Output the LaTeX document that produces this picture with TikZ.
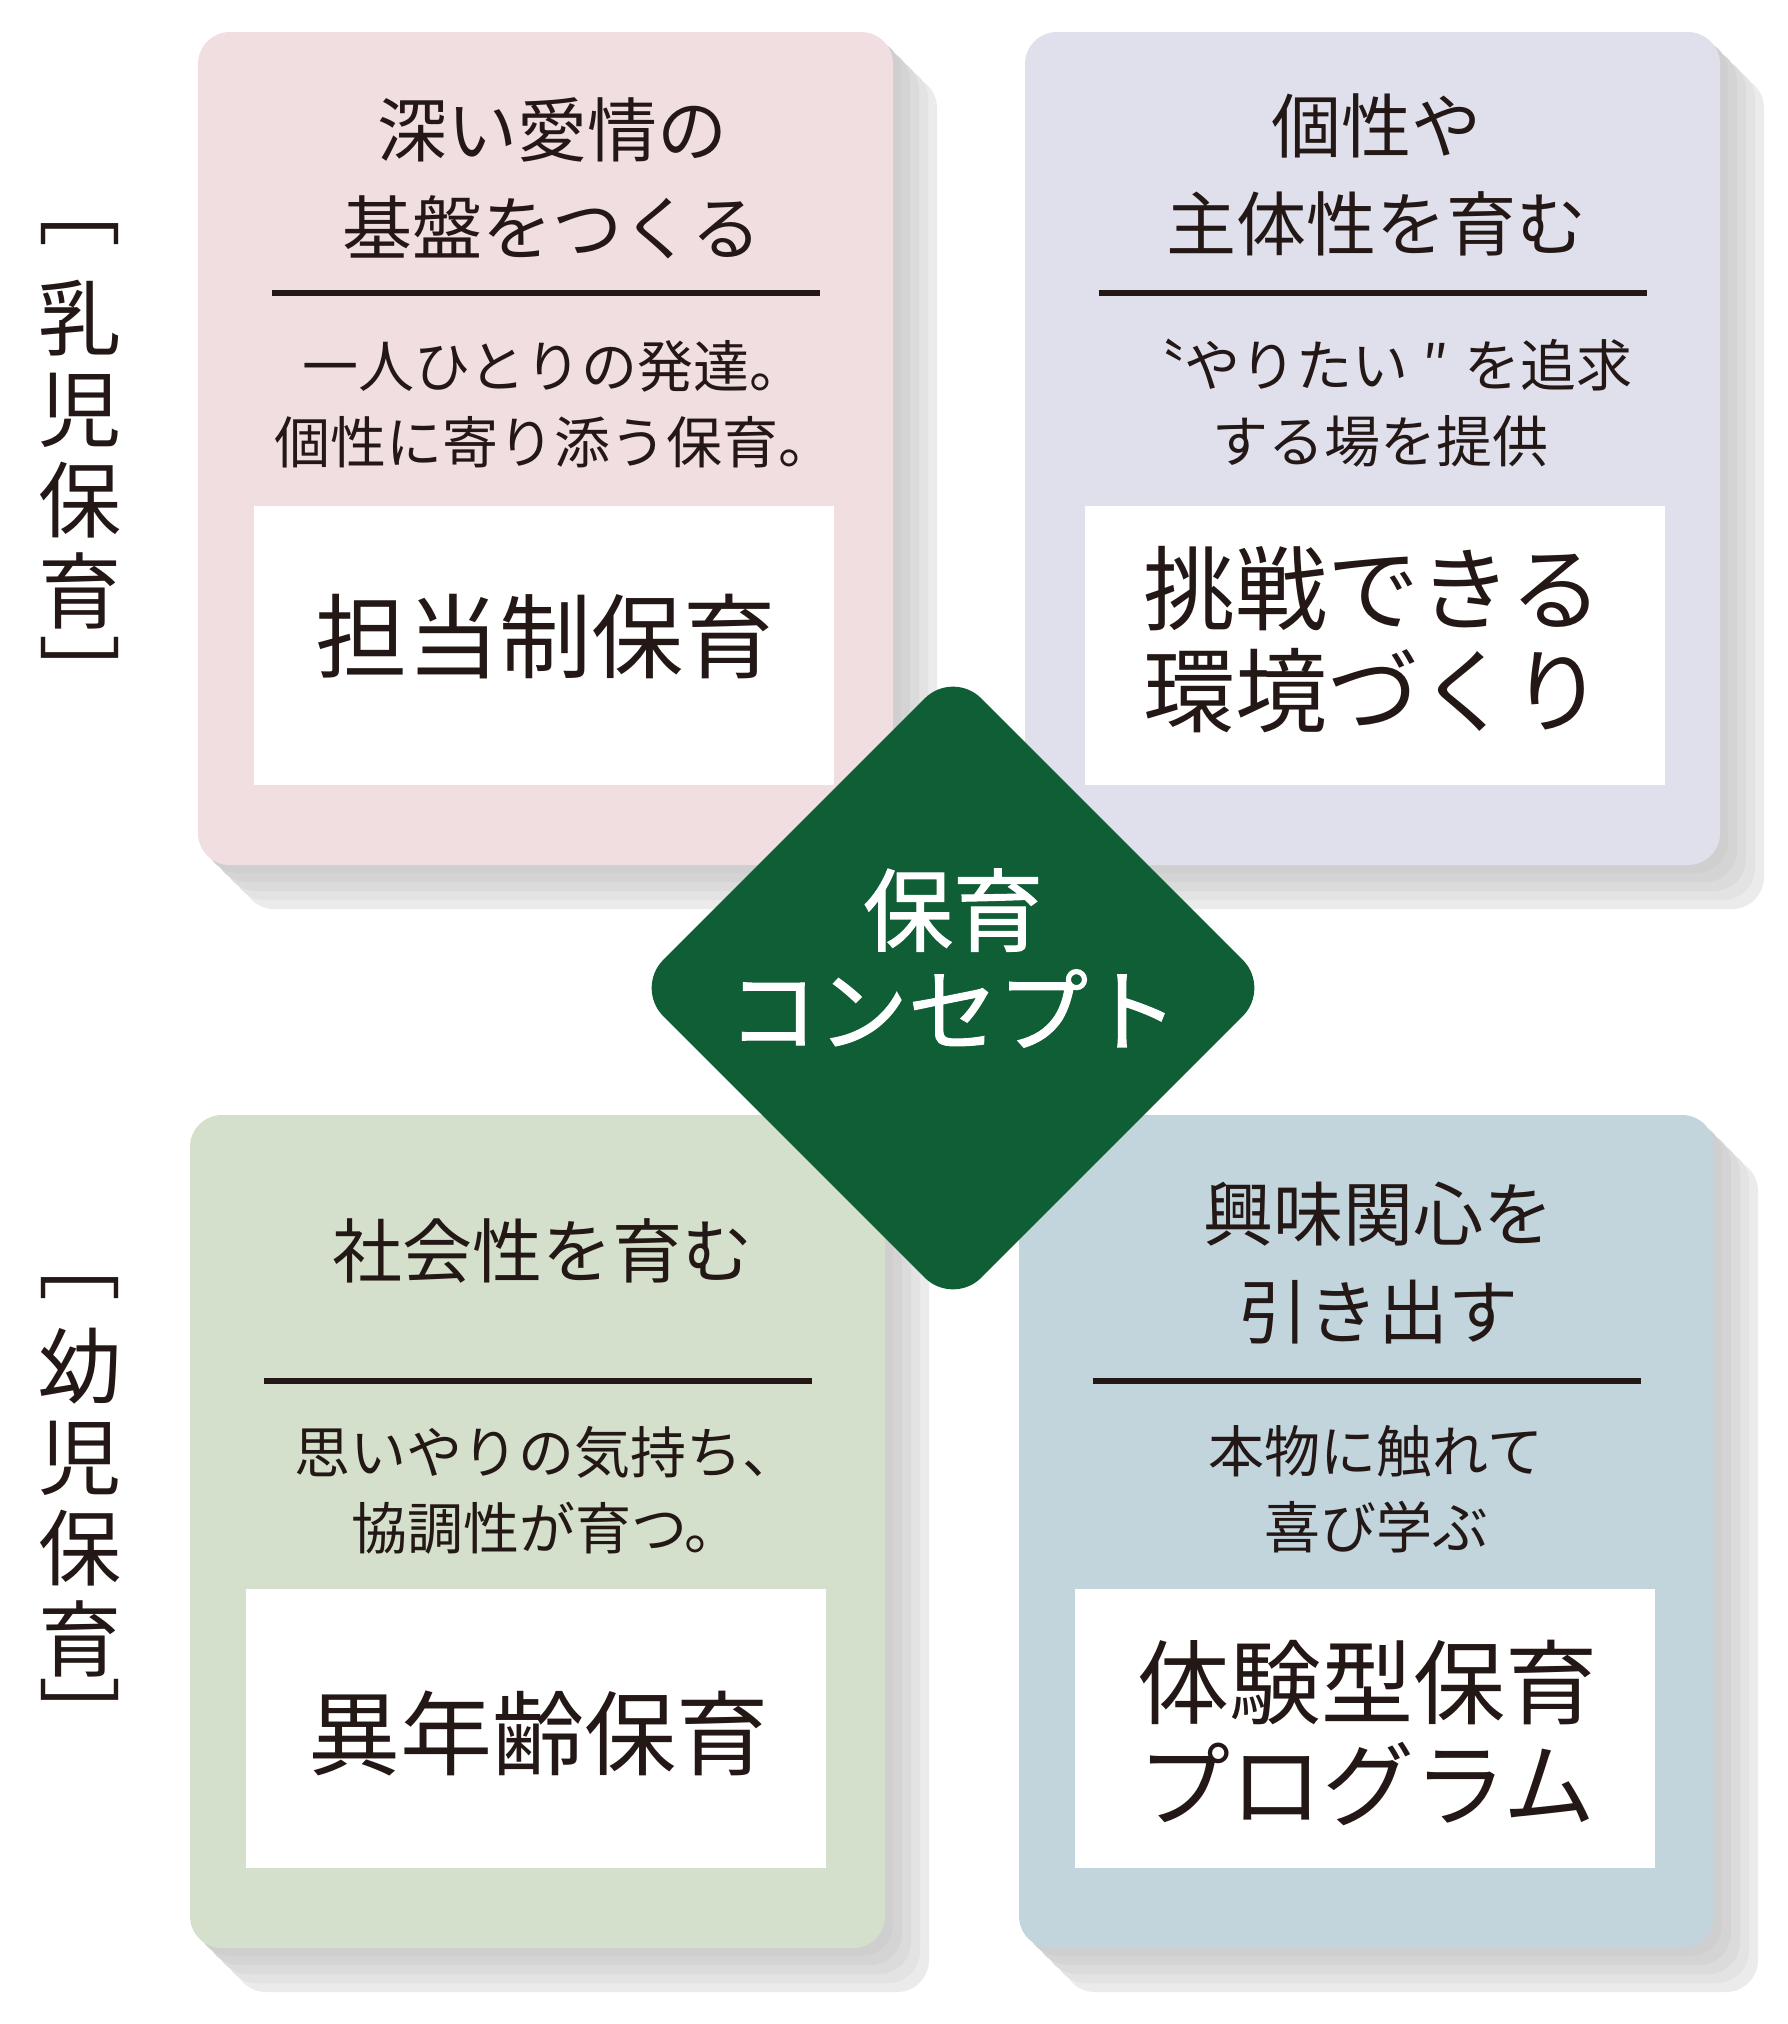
\documentclass[tikz,border=0pt]{standalone}
\usepackage{fontspec}
\setmainfont{Noto Sans CJK JP}
\newfontfamily\conceptfont{Noto Sans CJK JP}[FakeBold=1.2]
\usetikzlibrary{shapes.geometric}
\usetikzlibrary{shadows}

\definecolor{ink}{HTML}{231815}
\definecolor{pinkcard}{HTML}{F0DEE1}
\definecolor{lavcard}{HTML}{E0E0EC}
\definecolor{greencard}{HTML}{D4E0CB}
\definecolor{bluecard}{HTML}{C2D5DD}
\definecolor{conceptgreen}{HTML}{105E35}

\begin{document}
\begin{tikzpicture}[x=1pt,y=-1pt,
    card/.style={rounded corners=32pt, minimum width=695pt, minimum height=833pt, inner sep=0pt,
        general shadow={fill=black!8, shadow xshift=44pt, shadow yshift=-44pt},
        general shadow={fill=black!11, shadow xshift=35pt, shadow yshift=-35pt},
        general shadow={fill=black!14, shadow xshift=26pt, shadow yshift=-26pt},
        general shadow={fill=black!17, shadow xshift=17pt, shadow yshift=-17pt},
        general shadow={fill=black!19, shadow xshift=8pt, shadow yshift=-8pt}},
    whitebox/.style={fill=white, minimum width=580pt, minimum height=279pt, inner sep=0pt},
    title/.style={align=center, text=ink, inner sep=0pt, font=\fontsize{70}{98}\selectfont},
    subtext/.style={align=center, text=ink, inner sep=0pt, font=\fontsize{56}{76}\selectfont},
    maintext/.style={align=center, text=ink, inner sep=0pt, font=\fontsize{92}{102}\selectfont},
    rule/.style={ink, line width=6.5pt},
    sidelabel/.style={align=center, text=ink, inner sep=0pt, font=\fontsize{83}{91}\selectfont},
    concept/.style={diamond, aspect=1, fill=conceptgreen, minimum width=636pt, minimum height=636pt,
        inner sep=0pt, rounded corners=40pt},
    concepttext/.style={align=center, text=white, inner sep=0pt, font=\conceptfont\fontsize{90}{100}\selectfont}]
    \useasboundingbox (0,0) rectangle (1788,2024);

    % cards
    \node[card, fill=pinkcard] (infantA) at (545.5,448.5) {};
    \node[card, fill=lavcard] (infantB) at (1372.5,448.5) {};
    \node[card, fill=greencard] (childA) at (537.5,1531.5) {};
    \node[card, fill=bluecard] (childB) at (1366.5,1531.5) {};

    % white boxes
    \node[whitebox] (boxA) at (544,645.5) {};
    \node[whitebox] (boxB) at (1375,645.5) {};
    \node[whitebox] (boxC) at (536,1728.5) {};
    \node[whitebox] (boxD) at (1365,1728.5) {};

    % top left
    \node[title] (titleA) at (552,178) {深い愛情の\\基盤をつくる};
    \draw[rule] (271.5,293) -- (819.5,293);
    \node[subtext] (subA) at (554,404) {一人ひとりの発達。\\個性に寄り添う保育。};
    \node[maintext] (mainA) at (545,637) {担当制保育};

    % top right
    \node[title] (titleB) at (1376,175) {個性や\\主体性を育む};
    \draw[rule] (1098.5,293) -- (1646.5,293);
    \node[subtext] (subB) at (1380,403) {〝やりたい\makebox[1em]{″}を追求\\する場を提供};
    \node[maintext] (mainB) at (1373,640) {挑戦できる\\環境づくり};

    % bottom left
    \node[title] (titleC) at (542,1251) {社会性を育む};
    \draw[rule] (263.5,1381) -- (811.5,1381);
    \node[subtext] (subC) at (546,1490) {思いやりの気持ち、\\協調性が育つ。};
    \node[maintext] (mainC) at (538,1733) {異年齢保育};

    % bottom right
    \node[title] (titleD) at (1378,1263) {興味関心を\\引き出す};
    \draw[rule] (1092.5,1381) -- (1640.5,1381);
    \node[subtext] (subD) at (1376,1489) {本物に触れて\\喜び学ぶ};
    \node[maintext] (mainD) at (1367,1733) {体験型保育\\プログラム};

    % centre
    \node[concept] (concept) at (953,988) {};
    \node[concepttext] (conceptLabel) at (953,958) {保育\\コンセプト};

    % side labels
    \node[sidelabel] (infantLabel) at (80,455) {乳\\児\\保\\育};
    \node[sidelabel] (infantOpen) at (80,234) {﹇};
    \node[sidelabel] (infantClose) at (80,672) {﹈};
    \node[sidelabel] (childLabel) at (80,1503) {幼\\児\\保\\育};
    \node[sidelabel] (childOpen) at (80,1288) {﹇};
    \node[sidelabel] (childClose) at (80,1714) {﹈};
\end{tikzpicture}
\end{document}
